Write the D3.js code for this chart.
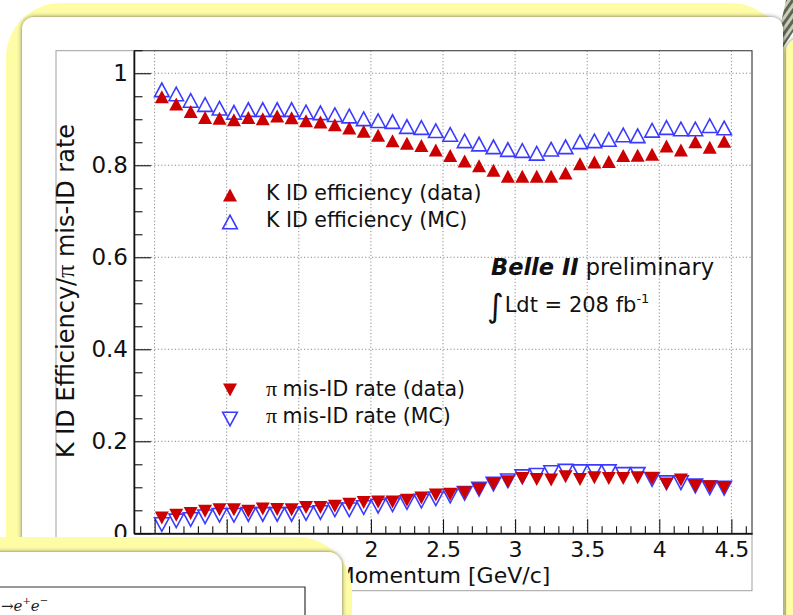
<!DOCTYPE html>
<html>
<head>
<meta charset="utf-8">
<script src="https://cdn.jsdelivr.net/npm/d3@7"></script>
<style>
  html, body { margin: 0; padding: 0; background: #fff; overflow: hidden; }
  svg { display: block; }
</style>
</head>
<body>
<svg id="slide" width="793" height="615"></svg>
<script>
// Bin centres of the momentum histogram [GeV/c]
const momentum = [0.55, 0.65, 0.75, 0.85, 0.95, 1.05, 1.15, 1.25, 1.35, 1.45,
                  1.55, 1.65, 1.75, 1.85, 1.95, 2.05, 2.15, 2.25, 2.35, 2.45,
                  2.55, 2.65, 2.75, 2.85, 2.95, 3.05, 3.15, 3.25, 3.35, 3.45,
                  3.55, 3.65, 3.75, 3.85, 3.95, 4.05, 4.15, 4.25, 4.35, 4.45];

// Kaon identification efficiency
const kEffData = [0.949, 0.933, 0.917, 0.904, 0.902, 0.899, 0.904, 0.901, 0.907, 0.903,
                  0.897, 0.894, 0.888, 0.881, 0.874, 0.865, 0.853, 0.848, 0.843, 0.833,
                  0.821, 0.809, 0.799, 0.789, 0.776, 0.776, 0.776, 0.776, 0.783, 0.803,
                  0.807, 0.808, 0.821, 0.822, 0.824, 0.842, 0.833, 0.851, 0.839, 0.852];
const kEffMC   = [0.964, 0.955, 0.941, 0.932, 0.924, 0.915, 0.921, 0.921, 0.921, 0.921,
                  0.916, 0.914, 0.910, 0.907, 0.901, 0.897, 0.895, 0.884, 0.882, 0.875,
                  0.867, 0.853, 0.846, 0.840, 0.834, 0.832, 0.826, 0.835, 0.840, 0.851,
                  0.853, 0.856, 0.866, 0.864, 0.876, 0.882, 0.879, 0.879, 0.886, 0.881];

// Pion mis-identification rate
const piMisData = [0.033, 0.039, 0.043, 0.048, 0.051, 0.051, 0.048, 0.053, 0.052, 0.051,
                   0.056, 0.056, 0.059, 0.063, 0.067, 0.068, 0.068, 0.072, 0.077, 0.083,
                   0.085, 0.088, 0.096, 0.107, 0.112, 0.119, 0.117, 0.116, 0.123, 0.117,
                   0.121, 0.119, 0.119, 0.121, 0.119, 0.107, 0.116, 0.103, 0.101, 0.099];
const piMisMC   = [0.019, 0.027, 0.030, 0.036, 0.039, 0.039, 0.041, 0.041, 0.041, 0.041,
                   0.043, 0.045, 0.051, 0.051, 0.056, 0.059, 0.062, 0.067, 0.070, 0.075,
                   0.081, 0.087, 0.096, 0.107, 0.114, 0.123, 0.126, 0.132, 0.135, 0.134,
                   0.134, 0.134, 0.128, 0.128, 0.117, 0.110, 0.110, 0.103, 0.099, 0.098];

// Axis ticks
const xTickValues = [0.5, 1, 1.5, 2, 2.5, 3, 3.5, 4, 4.5];
const xTickLabels = ["0.5", "1", "1.5", "2", "2.5", "3", "3.5", "4", "4.5"];
const yTickValues = [0, 0.2, 0.4, 0.6, 0.8, 1];
const yTickLabels = ["0", "0.2", "0.4", "0.6", "0.8", "1"];

const xTitle = "Momentum [GeV/c]";
const yTitle = ["K ID Efficiency/", "\u03c0", " mis-ID rate"];

const legendEff = ["K ID efficiency (data)", "K ID efficiency (MC)"];
const legendMis = ["mis-ID rate (data)", "mis-ID rate (MC)"];

const RED = "#cc0000";
const BLUE = "#3b3bff";
const FONT = "'DejaVu Sans', 'Liberation Sans', Arial, sans-serif";
const SERIF = "'Liberation Serif', 'DejaVu Serif', serif";

// marker half-sizes
const FILLED = { w: 7.0, h: 6.5 };
const OPEN = { w: 7.3, h: 6.8 };

const svg = d3.select("#slide");
const defs = svg.append("defs");

const shadow = defs.append("filter").attr("id", "shadow")
  .attr("x", "-10%").attr("y", "-10%").attr("width", "120%").attr("height", "120%");
shadow.append("feDropShadow").attr("dx", 0).attr("dy", 0)
  .attr("stdDeviation", 2.2).attr("flood-color", "#3a3a3a").attr("flood-opacity", 0.75);

const stripes = defs.append("pattern").attr("id", "stripes")
  .attr("patternUnits", "userSpaceOnUse").attr("width", 6).attr("height", 6)
  .attr("patternTransform", "rotate(35)");
stripes.append("rect").attr("width", 6).attr("height", 6).attr("fill", "#c9ccb9");
stripes.append("rect").attr("width", 3).attr("height", 6).attr("fill", "#5f6552");

// ---- slide backdrop ----
svg.append("rect").attr("width", 793).attr("height", 615).attr("fill", "#ffffff");
svg.append("rect").attr("x", 6).attr("y", 3).attr("width", 780).attr("height", 720)
  .attr("rx", 55).attr("fill", "#fffca6");
svg.append("path").attr("d", "M786,0 L793,0 L793,32 L780,52 L776,46 Z").attr("fill", "url(#stripes)");
svg.append("rect").attr("x", 786).attr("y", 38).attr("width", 40).attr("height", 700)
  .attr("rx", 14).attr("fill", "#fffca6").attr("filter", "url(#shadow)");
svg.append("rect").attr("x", 22).attr("y", 17).attr("width", 761).attr("height", 720)
  .attr("rx", 12).attr("fill", "#ffffff").attr("filter", "url(#shadow)");

// ---- plot canvas ----
const L = 134, R = 752, T = 50.7, B = 533.3;
svg.append("rect").attr("x", 56).attr("y", T).attr("width", R - 56).attr("height", 590.7 - T)
  .attr("fill", "#fff").attr("stroke", "#a0a0a0").attr("stroke-width", 1);

const x = d3.scaleLinear().domain([0.357, 4.643]).range([L, R]);
const y = d3.scaleLinear().domain([0, 1.049]).range([B, T]);

// dotted grid
const grid = svg.append("g").attr("stroke", "#8a8a8a").attr("stroke-width", 1)
  .attr("stroke-dasharray", "1.2,2.2");
grid.selectAll(".gx").data(xTickValues).join("line")
  .attr("x1", d => x(d)).attr("x2", d => x(d)).attr("y1", T).attr("y2", B);
grid.selectAll(".gy").data(yTickValues.filter(v => v > 0)).join("line")
  .attr("x1", L).attr("x2", R).attr("y1", d => y(d)).attr("y2", d => y(d));

// frame box
svg.append("rect").attr("x", L).attr("y", T).attr("width", R - L).attr("height", B - T)
  .attr("fill", "none").attr("stroke", "#4a4a4a").attr("stroke-width", 1);

// triangle markers (bounding-box centred, as ROOT draws them)
function triUp(cx, cy, s) {
  return `M${cx - s.w},${cy + s.h}L${cx + s.w},${cy + s.h}L${cx},${cy - s.h}Z`;
}
function triDown(cx, cy, s) {
  return `M${cx - s.w},${cy - s.h}L${cx + s.w},${cy - s.h}L${cx},${cy + s.h}Z`;
}
function styleMarker(sel, filled) {
  return sel.attr("fill", filled ? RED : "none")
    .attr("stroke", filled ? "none" : BLUE)
    .attr("stroke-width", filled ? 0 : 1.6);
}

function drawSeries(values, shape, filled) {
  const g = svg.append("g");
  styleMarker(g.selectAll("path").data(values).join("path")
    .attr("d", (v, i) => shape(x(momentum[i]), y(v), filled ? FILLED : OPEN)), filled);
}
drawSeries(kEffMC, triUp, false);
drawSeries(piMisMC, triDown, false);
drawSeries(kEffData, triUp, true);
drawSeries(piMisData, triDown, true);

// axes
const xMinor = d3.range(4, 47).map(v => v / 10).filter(v => !xTickValues.some(t => Math.abs(t - v) < 1e-9));
const yMinor = d3.range(0, 22).map(v => v * 0.05).filter(v => !yTickValues.some(t => Math.abs(t - v) < 1e-9));

const xAxis = svg.append("g").attr("transform", `translate(0,${B})`)
  .call(d3.axisBottom(x).tickValues(xTickValues).tickSize(-14).tickSizeOuter(0).tickPadding(8)
        .tickFormat((d, i) => xTickLabels[i]));
const xAxisMinor = svg.append("g").attr("transform", `translate(0,${B})`)
  .call(d3.axisBottom(x).tickValues(xMinor).tickSize(-7).tickSizeOuter(0).tickFormat(""));
const yAxis = svg.append("g").attr("transform", `translate(${L},0)`)
  .call(d3.axisLeft(y).tickValues(yTickValues).tickSize(-17).tickSizeOuter(0).tickPadding(6)
        .tickFormat((d, i) => yTickLabels[i]));
const yAxisMinor = svg.append("g").attr("transform", `translate(${L},0)`)
  .call(d3.axisLeft(y).tickValues(yMinor).tickSize(-8.5).tickSizeOuter(0).tickFormat(""));

[xAxis, xAxisMinor, yAxis, yAxisMinor].forEach(a => {
  a.select(".domain").attr("stroke", "#111").attr("stroke-width", 1.3);
  a.selectAll(".tick line").attr("stroke", "#111").attr("stroke-width", 1.1);
});
xAxis.selectAll("text").attr("font-family", FONT).attr("font-size", 22).attr("fill", "#111");
yAxis.selectAll("text").attr("font-family", FONT).attr("font-size", 23).attr("fill", "#111");

// axis titles
svg.append("text").attr("x", (L + R) / 2).attr("y", 583).attr("text-anchor", "middle")
  .attr("font-family", FONT).attr("font-size", 22).attr("fill", "#111").text(xTitle);

const yt = svg.append("text").attr("transform", "translate(74,291) rotate(-90)")
  .attr("text-anchor", "middle").attr("font-family", FONT).attr("font-size", 24).attr("fill", "#111");
yt.append("tspan").text(yTitle[0]);
yt.append("tspan").attr("font-family", SERIF).attr("font-size", 26).text(yTitle[1]);
yt.append("tspan").text(yTitle[2]);

// legends
const legX = 230, textX = 266;
styleMarker(svg.append("path").attr("d", triUp(legX, 195, FILLED)), true);
styleMarker(svg.append("path").attr("d", triUp(legX, 222, OPEN)), false);
styleMarker(svg.append("path").attr("d", triDown(legX, 390, FILLED)), true);
styleMarker(svg.append("path").attr("d", triDown(legX, 419, OPEN)), false);

[[legendEff[0], 200], [legendEff[1], 227]].forEach(([t, yy]) => {
  svg.append("text").attr("x", textX).attr("y", yy).attr("font-family", FONT)
    .attr("font-size", 20.5).attr("fill", "#111").text(t);
});
[[legendMis[0], 396], [legendMis[1], 423]].forEach(([t, yy]) => {
  const tx = svg.append("text").attr("x", textX).attr("y", yy).attr("font-family", FONT)
    .attr("font-size", 20.5).attr("fill", "#111");
  tx.append("tspan").attr("font-family", SERIF).attr("font-size", 22).text("\u03c0 ");
  tx.append("tspan").text(t);
});

// experiment label
const bl = svg.append("text").attr("x", 491).attr("y", 275).attr("font-family", FONT)
  .attr("font-size", 22.5).attr("fill", "#111");
bl.append("tspan").attr("font-weight", "bold").attr("font-style", "italic").text("Belle II");
bl.append("tspan").text(" preliminary");

const lum = svg.append("text").attr("x", 487).attr("y", 312).attr("font-family", FONT)
  .attr("font-size", 21).attr("fill", "#111");
lum.append("tspan").attr("font-size", 32).attr("dy", 5).text("\u222b");
lum.append("tspan").attr("dy", -5).attr("dx", 1).text("Ldt = 208 fb");
lum.append("tspan").attr("dy", -9).attr("font-size", 13).text("-1");

// ---- overlapping slide in the lower-left corner ----
svg.append("rect").attr("x", -60).attr("y", 537).attr("width", 412).attr("height", 200)
  .attr("rx", 55).attr("fill", "#fffca6");
svg.append("rect").attr("x", -30).attr("y", 552).attr("width", 372).attr("height", 200)
  .attr("rx", 14).attr("fill", "#ffffff").attr("filter", "url(#shadow)");
svg.append("path").attr("d", "M-5,587 L305,587 L305,640").attr("fill", "none")
  .attr("stroke", "#333").attr("stroke-width", 1.2);
const ee = svg.append("text").attr("x", 1).attr("y", 611)
  .attr("font-family", "'DejaVu Serif', 'Liberation Serif', serif").attr("font-size", 15)
  .attr("font-style", "italic").attr("fill", "#222");
ee.append("tspan").attr("font-style", "normal").text("\u2192");
ee.append("tspan").text("e");
ee.append("tspan").attr("dy", -7).attr("font-size", 10).text("+");
ee.append("tspan").attr("dy", 7).text("e");
ee.append("tspan").attr("dy", -7).attr("font-size", 10).text("\u2212");
</script>
</body>
</html>
